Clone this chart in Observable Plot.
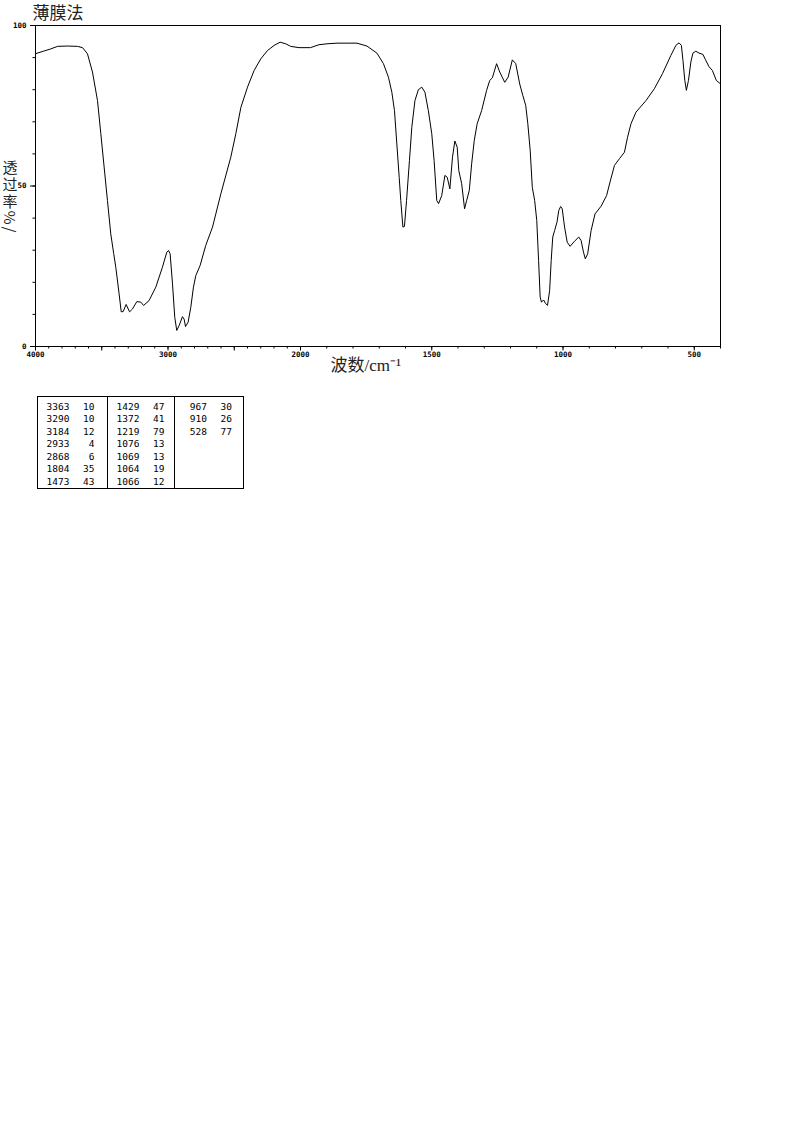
<!DOCTYPE html>
<html>
<head>
<meta charset="utf-8">
<script src="https://cdn.jsdelivr.net/npm/d3@7"></script>
<script src="https://cdn.jsdelivr.net/npm/@observablehq/plot@0.6"></script>
<style>
  body { margin: 0; background: #fff; }
  #wrap { position: relative; width: 794px; height: 1134px; background: #fff; }
  #peaks { position: absolute; left: 36.5px; top: 396px; width: 207px; height: 93px;
           border: 1px solid #000; box-sizing: border-box;
           font-family: "DejaVu Sans Mono", monospace; font-size: 9.5px; color: #000; }
  #peaks .div { position: absolute; top: 0; bottom: 0; border-left: 1px solid #000; }
  #peaks .c { position: absolute; text-align: right; line-height: 10px; height: 10px; white-space: pre; }
</style>
</head>
<body>
<div id="wrap"></div>
<script>
// ---- Spectrum (wavenumber cm-1, transmittance %) ----
const wavenumbers = [4000,3940,3885,3834,3760,3683,3645,3608,3570,3532,3507,3482,3457,3432,3410,3394,3369,3353,3338,3316,3290,3268,3235,3205,3184,3143,3092,3042,3009,2996,2984,2966,2949,2934,2916,2891,2878,2868,2848,2828,2808,2790,2758,2715,2664,2601,2526,2488,2450,2400,2350,2300,2249,2199,2154,2111,2074,2011,1962,1930,1899,1861,1785,1747,1709,1684,1665,1652,1642,1633,1624,1618,1610,1604,1596,1585,1576,1564,1551,1538,1526,1513,1500,1491,1481,1474,1462,1450,1441,1431,1421,1412,1403,1397,1386,1375,1367,1357,1348,1338,1327,1310,1291,1279,1269,1253,1241,1222,1209,1193,1180,1165,1153,1142,1134,1125,1117,1108,1100,1093,1087,1082,1074,1067,1059,1051,1045,1039,1032,1023,1016,1009,1003,994,984,973,956,940,931,922,915,906,893,878,855,834,821,804,785,766,754,741,722,684,652,621,589,570,558,549,543,536,530,522,513,505,494,482,467,457,444,431,416,400];
const transmittance = [91.2,92.0,92.7,93.5,93.6,93.5,93.1,91.2,85.5,76.6,66.3,55.9,45.5,35.1,29.0,24.7,16.4,10.8,10.9,13.1,10.8,11.7,14.0,13.8,12.8,14.3,18.5,24.7,29.4,29.9,28.9,19.5,9.1,5.0,6.5,9.3,8.5,6.2,7.6,12.2,18.5,22.1,25.2,31.5,37.2,47.6,59.0,66.3,74.5,80.8,86.0,89.6,92.2,93.8,94.8,94.3,93.5,93.1,93.1,94.0,94.3,94.5,94.5,93.6,91.4,88.1,83.9,79.2,73.5,63.1,52.7,45.5,37.2,37.4,45.5,57.9,68.3,76.6,80.0,80.8,79.2,73.5,66.3,57.9,45.5,44.5,47.0,53.3,52.7,49.1,59.0,64.0,62.1,54.8,50.7,42.9,45.5,48.6,56.9,64.2,69.4,73.5,79.8,82.9,83.7,88.1,85.5,82.3,83.9,89.3,88.1,81.8,78.2,75.1,69.4,61.1,49.6,45.5,39.3,26.8,15.4,13.8,14.5,13.5,12.8,17.4,26.8,34.1,36.1,38.7,42.4,43.6,42.9,37.2,32.5,31.2,32.8,34.1,33.0,29.4,27.3,28.9,36.1,41.3,43.7,47.0,51.2,56.4,58.5,60.5,65.2,69.4,73.0,76.6,80.3,85.0,90.7,93.8,94.6,93.8,89.1,82.9,79.8,82.9,88.6,91.4,92.0,91.4,91.0,89.3,87.2,86.0,82.9,81.8];

// ---- Axis ticks ----
const xMinorTicks = d3.range(400, 4001, 100);
const xMajorTicks = [4000, 3500, 3000, 2500, 2000, 1500, 1000, 500];
const xTickLabels = [4000, 3000, 2000, 1500, 1000, 500];
const yMinorTicks = d3.range(0, 101, 10);
const yTickLabels = [0, 50, 100];

// ---- Texts ----
const titleText = "薄膜法";
const xLabelText = "波数/cm⁻¹";
const yLabelText = "透过率%/";

// ---- Peak table ----
const peakWavenumbers = [3363,3290,3184,2933,2868,1804,1473,1429,1372,1219,1076,1069,1064,1066,967,910,528];
const peakTransmittance = [10,10,12,4,6,35,43,47,41,79,13,13,19,12,30,26,77];

const spectrum = wavenumbers.map((w, i) => ({w, t: transmittance[i]}));

const chart = Plot.plot({
  width: 794,
  height: 380,
  marginTop: 25,
  marginBottom: 34,
  marginLeft: 35,
  marginRight: 74,
  style: {background: "#fff", color: "#000", overflow: "visible"},
  x: {type: "linear", domain: [4000, 2000, 400], range: [35, 300, 720], label: null},
  y: {domain: [0, 100], label: null},
  marks: [
    Plot.axisX({ticks: xMinorTicks, tickSize: 2.5, tickFormat: () => "", label: null, stroke: "#000"}),
    Plot.axisX({ticks: xMajorTicks, tickSize: 4.5, tickPadding: 1, label: null, stroke: "#000",
      tickFormat: d => xTickLabels.includes(d) ? String(d) : "",
      fontFamily: "DejaVu Sans Mono", fontSize: 7.5, fontWeight: "bold", fill: "#000"}),
    Plot.axisY({ticks: yMinorTicks, tickSize: 2.5, tickFormat: () => "", label: null, stroke: "#000"}),
    Plot.axisY({ticks: yTickLabels, tickSize: 5, tickPadding: 4, label: null, stroke: "#000",
      fontFamily: "DejaVu Sans Mono", fontSize: 7.5, fontWeight: "bold", fill: "#000"}),
    Plot.frame({stroke: "#000", strokeWidth: 1}),
    Plot.line(spectrum, {x: "w", y: "t", stroke: "#000", strokeWidth: 1, curve: "linear"}),
    Plot.text([titleText], {frameAnchor: "top-left", text: d => d, textAnchor: "start", lineAnchor: "middle",
      dx: -3, dy: -12, fontSize: 17, fontFamily: "Noto Sans CJK SC", fill: "#222"}),
    Plot.text([xLabelText], {frameAnchor: "bottom", text: d => d, textAnchor: "start", lineAnchor: "middle",
      dx: -47.5, dy: 19, fontSize: 17, fontFamily: "'Liberation Serif', 'Noto Sans CJK SC'", fill: "#222"}),
    Plot.text([yLabelText], {frameAnchor: "left", text: d => d, textAnchor: "start", lineAnchor: "middle",
      dx: -25.5, dy: -31, fontSize: 15, fontFamily: "Noto Sans CJK SC", fill: "#222"})
  ]
});

// Make the y-axis label vertical (CJK upright, Latin rotated), as in the reference
d3.select(chart).selectAll("text")
  .filter(function() { return this.textContent === yLabelText; })
  .attr("dy", null)
  .attr("text-anchor", "start")
  .style("writing-mode", "vertical-rl")
  .style("letter-spacing", "2px")
  .style("dominant-baseline", "central");

const wrap = document.getElementById("wrap");
wrap.appendChild(chart);

// ---- Build peak table from arrays ----
const table = document.createElement("div");
table.id = "peaks";
wrap.appendChild(table);
const colStarts = [0, 70, 137.5];
const rowsPerCol = 7;
[70, 137.5].forEach(x => {
  const d = document.createElement("div");
  d.className = "div";
  d.style.left = (x - 1) + "px";
  table.appendChild(d);
});
peakWavenumbers.forEach((w, i) => {
  const col = Math.floor(i / rowsPerCol), row = i % rowsPerCol;
  const top = 5 + row * 12.45;
  const n = document.createElement("div");
  n.className = "c";
  n.textContent = String(w);
  n.style.left = (colStarts[col] + 2) + "px";
  n.style.width = "30px";
  n.style.top = top + "px";
  table.appendChild(n);
  const v = document.createElement("div");
  v.className = "c";
  v.textContent = String(peakTransmittance[i]);
  v.style.left = (colStarts[col] + 36) + "px";
  v.style.width = "21px";
  v.style.top = top + "px";
  table.appendChild(v);
});
</script>
</body>
</html>
